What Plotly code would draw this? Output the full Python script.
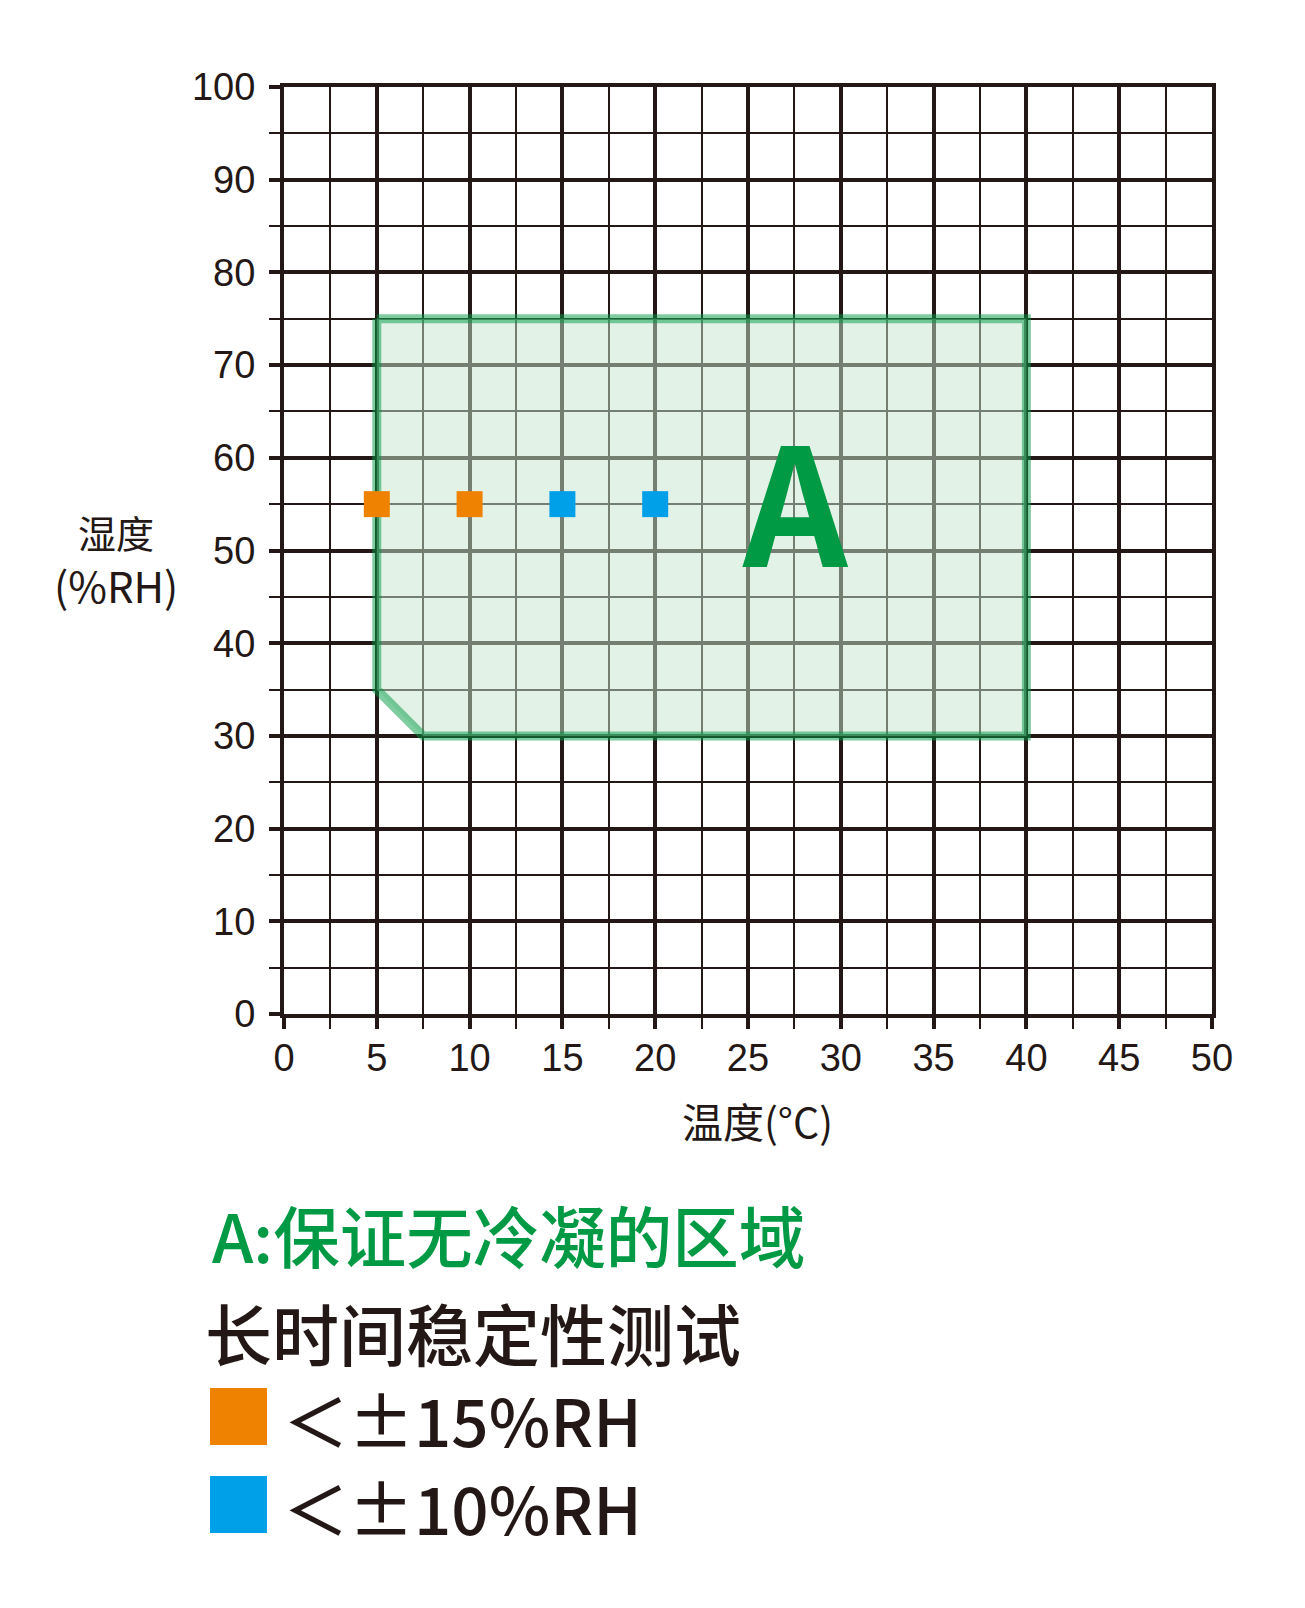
import plotly.graph_objects as go

# data
region_x = [5, 40, 40, 7.5, 5, 5]
region_y = [75, 75, 30, 30, 35, 75]
region_label = "A"
region_label_x = [27.55]
region_label_y = [55.9]

orange_x = [5, 10]
orange_y = [55, 55]
blue_x = [15, 20]
blue_y = [55, 55]

x_title = "温度(°C)"
y_title = ["湿度", "(%RH)"]
area_text = "A:保证无冷凝的区域"
test_text = "长时间稳定性测试"
legend_labels = ["＜±15%RH", "＜±10%RH"]
legend_colors = ["#ef8200", "#00a0e9"]

INK = "#231815"
GREEN = "#009944"
CJK = "Noto Sans CJK SC"

W, H = 1305, 1608
L, R, T, B = 284, 1212, 87, 1014   # plot edges in page pixels
PAGE = 8                            # body margin of the html page


def px(x):
    return (x - L) / (R - L)


def py(y):
    return (B - y) / (B - T)


fig = go.Figure()

fig.add_trace(go.Scatter(
    x=region_x, y=region_y, mode="lines", fill="toself",
    fillcolor="rgba(200,230,205,0.5)",
    line=dict(color="rgba(0,153,68,0.5)", width=9),
    hoverinfo="skip", showlegend=False))

fig.add_trace(go.Scatter(
    x=orange_x, y=orange_y, mode="markers",
    marker=dict(symbol="square", size=26, color=legend_colors[0], line=dict(width=0)),
    showlegend=False))
fig.add_trace(go.Scatter(
    x=blue_x, y=blue_y, mode="markers",
    marker=dict(symbol="square", size=26, color=legend_colors[1], line=dict(width=0)),
    showlegend=False))


def note(x, y, text, font, xanchor="center"):
    return dict(x=px(x), y=py(y), xref="paper", yref="paper", text=text,
                showarrow=False, xanchor=xanchor, yanchor="middle", font=font)


annotations = [
    dict(x=region_label_x[0], y=region_label_y[0], xref="x", yref="y",
         text=region_label, showarrow=False, xanchor="center", yanchor="middle",
         font=dict(family=CJK, size=163, color=GREEN, weight="bold")),
    note(757, 1120, x_title, dict(family=CJK, size=41, color=INK)),
    note(116, 531, y_title[0], dict(family=CJK, size=38, color=INK)),
    note(116, 584, y_title[1], dict(family=CJK, size=42, color=INK)),
    note(210, 1234, area_text, dict(family=CJK, size=66.5, color=GREEN, weight=500), "left"),
    note(203, 1331, test_text, dict(family=CJK, size=67, color=INK, weight=500), "left"),
]

shapes = []
for i, (lab, col) in enumerate(zip(legend_labels, legend_colors)):
    top = 1388 + i * 88
    shapes.append(dict(type="rect", xref="paper", yref="paper",
                       x0=px(210), x1=px(267), y0=py(top), y1=py(top + 57),
                       fillcolor=col, line=dict(width=0)))
    annotations.append(note(281, top + 30, lab,
                            dict(family=CJK, size=65.5, color=INK, weight=500), "left"))

axis_common = dict(
    showgrid=True, gridcolor=INK, gridwidth=3.5,
    showline=True, linecolor=INK, linewidth=4, mirror=True,
    zeroline=False, ticks="outside", ticklen=11, tickwidth=3.5, tickcolor=INK,
    tickfont=dict(family="Liberation Sans", size=38, color=INK),
    fixedrange=True,
)

fig.update_xaxes(range=[0, 50], tick0=0, dtick=5, ticklabelstandoff=-4,
                 minor=dict(dtick=2.5, showgrid=True, gridcolor=INK, gridwidth=1.6,
                            ticks="outside", ticklen=11, tickwidth=1.6, tickcolor=INK),
                 **axis_common)
fig.update_yaxes(range=[0, 100], tick0=0, dtick=10, ticklabelstandoff=6,
                 minor=dict(dtick=5, showgrid=True, gridcolor=INK, gridwidth=1.6,
                            ticks="outside", ticklen=11, tickwidth=1.6, tickcolor=INK),
                 **axis_common)

fig.update_layout(
    width=W, height=H,
    margin=dict(l=L - PAGE, r=W - R + PAGE, t=T - PAGE, b=H - B + PAGE),
    plot_bgcolor="white", paper_bgcolor="white",
    annotations=annotations, shapes=shapes,
    showlegend=False,
)

fig.write_html("out.html")
